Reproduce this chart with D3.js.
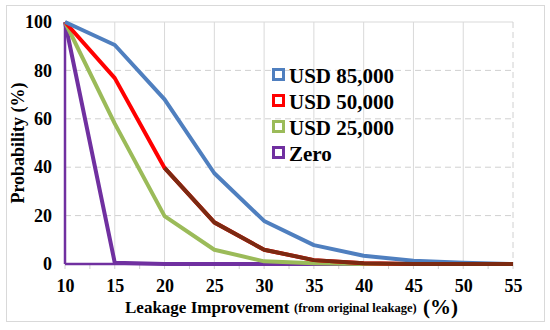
<!DOCTYPE html>
<html>
<head>
<meta charset="utf-8">
<script src="https://cdn.jsdelivr.net/npm/d3@7"></script>
<style>
  body { margin: 0; background: #fff; }
  svg { display: block; }
  svg text { font-family: "Liberation Serif", "Times New Roman", serif; font-weight: bold; }
</style>
</head>
<body>
<div id="chart"></div>
<script>
const improvement = [10, 15, 20, 25, 30, 35, 40, 45, 50, 55];
const usd85000 = [100, 90.5, 68, 37.5, 17.8, 7.8, 3.4, 1.3, 0.5, 0];
const usd50000 = [100, 76.8, 39.7, 17.2, 5.9, 1.6, 0.3, 0, 0, 0];
const usd25000 = [100, 58, 19.8, 5.9, 1.1, 0.3, 0, 0, 0, 0];
const zero = [100, 0.5, 0, 0, 0, 0, 0, 0, 0, 0];
const xTicks = [10, 15, 20, 25, 30, 35, 40, 45, 50, 55];
const yTicks = [0, 20, 40, 60, 80, 100];

const series = [
  { name: "USD 85,000", values: usd85000, color: "#4f7fbf" },
  { name: "USD 50,000", values: usd50000, color: "#ff0000" },
  { name: "USD 25,000", values: usd25000, color: "#9bbb59" },
  { name: "Zero", values: zero, color: "#7030a0" },
];

const width = 550, height = 330;
const margin = { top: 22, right: 37, bottom: 66, left: 65 };
const iw = width - margin.left - margin.right;
const ih = height - margin.top - margin.bottom;
const serif = "'Liberation Serif', 'Times New Roman', serif";

const svg = d3.select("#chart").append("svg")
  .attr("width", width).attr("height", height)
  .attr("font-family", serif);

// outer frame
svg.append("rect")
  .attr("x", 6.5).attr("y", 5.5)
  .attr("width", 538).attr("height", 316)
  .attr("fill", "#fff").attr("stroke", "#d9d9d9");

const x = d3.scaleLinear().domain([10, 55]).range([0, iw]);
const y = d3.scaleLinear().domain([0, 100]).range([ih, 0]);

const g = svg.append("g").attr("transform", `translate(${margin.left},${margin.top})`);

// grid
g.append("g").selectAll("line")
  .data(xTicks.slice(1, -1))
  .join("line")
  .attr("x1", d => x(d)).attr("x2", d => x(d))
  .attr("y1", 0).attr("y2", ih)
  .attr("stroke", "#d9d9d9");
g.append("g").selectAll("line")
  .data(yTicks.slice(1, -1))
  .join("line")
  .attr("x1", 0).attr("x2", iw)
  .attr("y1", d => y(d)).attr("y2", d => y(d))
  .attr("stroke", "#d0d0d0")
  .attr("stroke-dasharray", "6,4");
g.append("line")
  .attr("x1", 0).attr("x2", iw).attr("y1", y(100)).attr("y2", y(100))
  .attr("stroke", "#d9d9d9");
g.append("line")
  .attr("x1", x(55)).attr("x2", x(55)).attr("y1", 0).attr("y2", ih)
  .attr("stroke", "#d0d0d0").attr("stroke-dasharray", "6,4");

// minor ticks below the axis
g.append("g").selectAll("line")
  .data(d3.range(10, 55.1, 2.5))
  .join("line")
  .attr("x1", d => x(d)).attr("x2", d => x(d))
  .attr("y1", ih).attr("y2", ih + 5)
  .attr("stroke", "#d0d0d0");

// axes
const xAxis = g.append("g")
  .attr("transform", `translate(0,${ih})`)
  .call(d3.axisBottom(x).tickValues(xTicks).tickSize(0).tickPadding(15));
xAxis.select(".domain").remove();
xAxis.selectAll("text").attr("font-size", 18).attr("fill", "#000")
  .attr("font-family", serif).attr("font-weight", "bold");

const yAxis = g.append("g")
  .call(d3.axisLeft(y).tickValues(yTicks).tickSize(0).tickPadding(13));
yAxis.select(".domain").remove();
yAxis.selectAll("text").attr("font-size", 18).attr("fill", "#000")
  .attr("font-family", serif).attr("font-weight", "bold");

// axis lines (zero series runs along them)
g.append("line").attr("x1", 0).attr("x2", 0).attr("y1", y(100)).attr("y2", y(0))
  .attr("stroke", "#7030a0").attr("stroke-width", 2.5);
g.append("line").attr("x1", 0).attr("x2", iw).attr("y1", y(0)).attr("y2", y(0))
  .attr("stroke", "#7030a0").attr("stroke-width", 2.5);

// lines
const line = d3.line()
  .x((d, i) => x(improvement[i]))
  .y(d => y(d));

g.selectAll(".series")
  .data(series.slice().reverse())
  .join("path")
  .attr("class", "series")
  .attr("fill", "none")
  .attr("stroke", d => d.color)
  .attr("stroke-width", 4)
  .attr("stroke-linejoin", "round")
  .attr("d", d => line(d.values));

// darker tail of the USD 50,000 curve
const tailLine = d3.line()
  .defined((d, i) => improvement[i] >= 20)
  .x((d, i) => x(improvement[i]))
  .y(d => y(d));
g.append("path")
  .attr("fill", "none")
  .attr("stroke", "#7b2a12")
  .attr("stroke-width", 4)
  .attr("stroke-linejoin", "round")
  .attr("d", tailLine(usd50000));

// legend
const legend = svg.append("g").attr("transform", "translate(272,75)");
const item = legend.selectAll("g")
  .data(series)
  .join("g")
  .attr("transform", (d, i) => `translate(0,${i * 26})`);
item.append("rect")
  .attr("x", 1.5).attr("y", -5.5)
  .attr("width", 10).attr("height", 10)
  .attr("fill", "#fff")
  .attr("stroke", d => d.color)
  .attr("stroke-width", 3);
item.append("text")
  .attr("x", 17).attr("y", 1)
  .attr("dy", "0.35em")
  .attr("font-size", 21)
  .text(d => d.name);

// axis titles
svg.append("text")
  .attr("transform", `translate(18,${margin.top + ih / 2}) rotate(-90)`)
  .attr("text-anchor", "middle")
  .attr("dy", "0.35em")
  .attr("font-size", 18)
  .text("Probability (%)");

svg.append("text")
  .attr("x", 125).attr("y", 313)
  .attr("font-size", 17)
  .text("Leakage Improvement");
svg.append("text")
  .attr("x", 294).attr("y", 312)
  .attr("font-size", 12.5)
  .text("(from original leakage)");
svg.append("text")
  .attr("x", 423).attr("y", 314)
  .attr("font-size", 21)
  .text("(%)");
</script>
</body>
</html>
